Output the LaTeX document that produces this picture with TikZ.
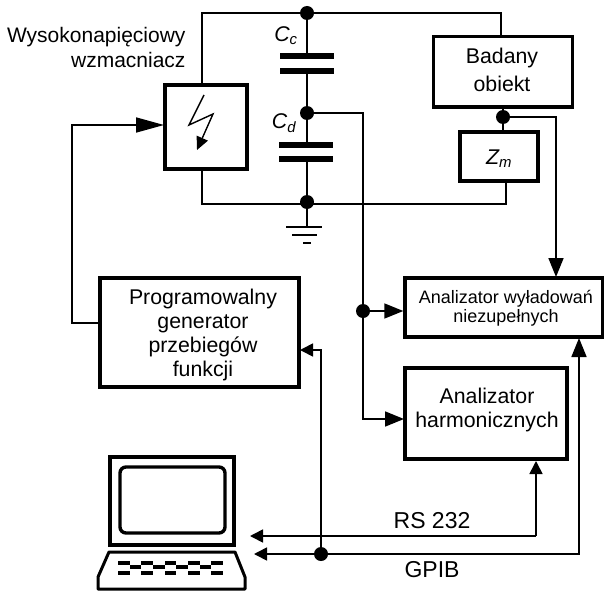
\documentclass[tikz,border=0pt]{standalone}
\usepackage{fontspec}
\setmainfont{Liberation Sans}
\usetikzlibrary{arrows.meta}
\tikzstyle{wire} = [line width=1.7pt]
\tikzstyle{arrow} = [line width=1.7pt,-{Triangle[length=19pt,width=15pt]}]
\tikzstyle{arrowlong} = [line width=1.7pt,-{Triangle[length=28pt,width=15pt]}]
\tikzstyle{arrowsmall} = [line width=1.7pt,-{Triangle[length=13pt,width=13pt]}]
\tikzstyle{box} = [draw,line width=3.2pt,inner sep=0pt]
\tikzstyle{boxtext} = [align=center,inner sep=0pt,font=\fontsize{21.3}{24}\selectfont]
\tikzstyle{buslabel} = [inner sep=0pt,font=\fontsize{23}{24}\selectfont]
\tikzstyle{dot} = [circle,fill=black,inner sep=0pt,minimum size=14pt]
\tikzstyle{plate} = [line width=5.5pt]
\tikzset{boxat/.style n args={4}{box,minimum width=#3-#1,minimum height=#4-#2,
    at={({(#1+#3)/2},{(#2+#4)/2})}}}

\begin{document}
\begin{tikzpicture}[x=1pt,y=-1pt]
\useasboundingbox (0,0) rectangle (604,591);

% blocks
\node[boxat={165}{85}{247}{169},line width=3.4pt] (amp) {};
\node[boxat={433}{37}{572}{107},line width=3pt] (obj) {};
\node[boxat={460}{132}{538}{181},line width=3.6pt] (zm) {};
\node[boxat={100}{278}{299}{387}] (gen) {};
\node[boxat={405}{278}{603}{337},line width=3.4pt] (pd) {};
\node[boxat={405}{368}{567}{459},line width=4pt] (harm) {};

% texts in the blocks
\node[boxtext,font=\fontsize{21.3}{28.5}\selectfont] (objtext) at (502,70) {Badany\\obiekt};
\node[boxtext] (zmtext) at (499,159) {\textit{Z\textsubscript{m}}};
\node[boxtext] (gentext) at (203,335) {Programowalny\\generator\\przebiegów\\funkcji};
\node[boxtext,font=\fontsize{18}{19.5}\selectfont] (pdtext) at (506,308) {Analizator wyładowań\\niezupełnych};
\node[boxtext] (harmtext) at (487,410) {Analizator\\harmonicznych};

% junctions
\node[dot] (top) at (307,13) {};
\node[dot] (mid) at (307,113) {};
\node[dot] (bot) at (307,202) {};
\node[dot] (zmtop) at (503,117) {};
\node[dot] (split) at (363,311) {};
\node[dot] (bus) at (321,554) {};

% capacitors
\coordinate (cc1) at (307,56);
\coordinate (cc2) at (307,71);
\coordinate (cd1) at (307,145);
\coordinate (cd2) at (307,159);
\draw[plate] (280,56) -- (334,56);
\draw[plate] (280,71) -- (334,71);
\draw[plate] (279,145) -- (333,145);
\draw[plate] (279,159) -- (333,159);
\draw[wire,line width=2.2pt] (top) -- (cc1);
\draw[wire,line width=2.2pt] (cc2) -- (mid) -- (cd1);
\draw[wire,line width=2.2pt] (cd2) -- (bot);
\node[boxtext] (cclabel) at (286,36) {\textit{C\textsubscript{c}}};
\node[boxtext] (cdlabel) at (284,123) {\textit{C\textsubscript{d}}};

% ground
\coordinate (gnd) at (307,227);
\draw[wire] (bot) -- (gnd);
\draw[wire] (286,227) -- (322,227);
\draw[wire] (292,235) -- (317,235);
\draw[wire,line width=2.2pt] (303,243) -- (311,243);

% wires round the circuit
\coordinate (ampt) at (202,13);
\coordinate (ampb) at (202,204);
\draw[wire] (amp.north -| ampt) -- (ampt) -- (top) -- (501,13) -- (501,37);
\draw[wire] (amp.south -| ampb) -- (ampb) -- (506,204) -- (506,181);
\draw[wire] (obj.south -| zmtop) -- (zmtop) -- (zm.north -| zmtop);
\draw[arrow] (zmtop) -- (556,117) -- (556,277);
\draw[wire] (mid) -- (363,113) -- (split);
\draw[arrow] (split) -- (pd.west |- split);
\draw[arrow] (split) -- (363,419) -- (404,419);
\draw[arrowlong] (gen.west |- 0,323) -- (72,323) -- (72,125) -- (164,125);
\draw[arrowsmall] (bus) -- (321,350) -- (300,350);

% bus lines
\coordinate (rs) at (250,536);
\coordinate (gpib) at (254,554);
\coordinate (rsup) at (536,536);
\draw[arrowsmall] (rsup) -- (rs);
\draw[arrowsmall] (rsup) -- (536,461);
\draw[arrowsmall] (bus) -- (gpib);
\draw[arrow] (bus) -- (579,554) -- (579,338);
\node[buslabel] (rslabel) at (432,521) {RS 232};
\node[buslabel] (gpiblabel) at (432,570) {GPIB};

% labels and lightning
\node[align=right,anchor=east,font=\fontsize{21}{25}\selectfont] (amplabel) at (189,47) {Wysokonapięciowy\\wzmacniacz};
\draw[line width=1.4pt,-{Triangle[length=13pt,width=12pt]}] (204,95) -- (189,125) -- (213,114) -- (197,150);

% computer
\draw[line width=3.4pt] (110,457) rectangle (234,545);
\draw[line width=3.4pt,rounded corners=6pt] (120,467) rectangle (225,533);
\draw[line width=3pt,line join=round] (98,589) -- (98,577) -- (109,552) -- (235,552) -- (245,577) -- (245,589) -- cycle;
\foreach \x in {118,141.3,164.6,188,211.3} {
  \fill (\x,560.5) rectangle ++(11.7,4);
  \fill (\x,570.5) rectangle ++(11.7,4);
}
\foreach \x in {129.7,153,176.3,199.7} {
  \fill (\x,564.5) rectangle ++(11.6,4.5);
}
\end{tikzpicture}
\end{document}
